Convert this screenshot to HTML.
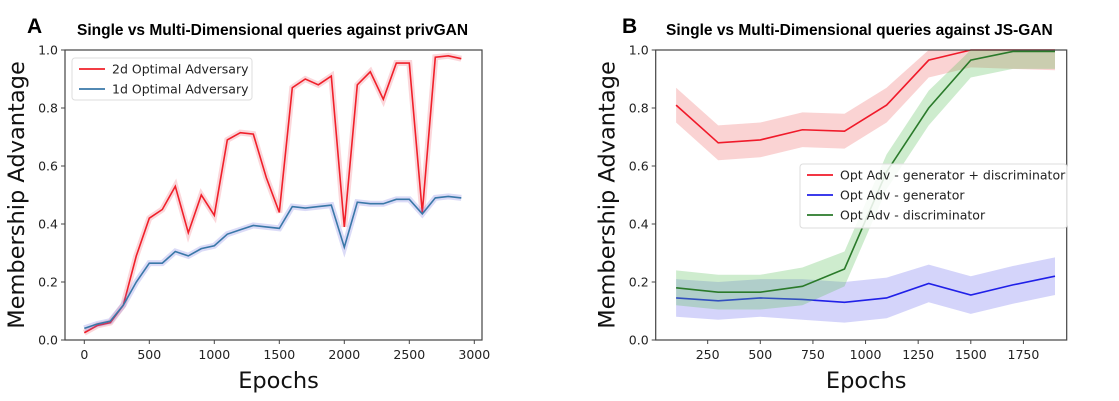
<!DOCTYPE html>
<html><head><meta charset="utf-8">
<style>
body{margin:0;background:#fff;width:1119px;height:401px;overflow:hidden}
svg{display:block;font-family:"Liberation Sans","DejaVu Sans",sans-serif}
.tick{font-size:12.5px;fill:#222;font-family:"DejaVu Sans",sans-serif}
.leg{font-size:12.5px;fill:#222;font-family:"DejaVu Sans",sans-serif}
</style></head>
<body>
<svg id="fig" width="1119" height="401"></svg>
<script>
// Panel A data
const aEpochs=[0,100,200,300,400,500,600,700,800,900,1000,1100,1200,1300,1400,1500,1600,1700,1800,1900,2000,2100,2200,2300,2400,2500,2600,2700,2800,2900];
const a2d=[0.025,0.05,0.06,0.12,0.29,0.42,0.45,0.53,0.37,0.50,0.43,0.69,0.715,0.71,0.56,0.44,0.87,0.90,0.88,0.91,0.39,0.88,0.925,0.83,0.955,0.955,0.44,0.975,0.98,0.97];
const a1d=[0.04,0.055,0.065,0.12,0.2,0.265,0.265,0.305,0.29,0.315,0.325,0.365,0.38,0.395,0.39,0.385,0.46,0.455,0.46,0.465,0.32,0.475,0.47,0.47,0.485,0.485,0.435,0.49,0.495,0.49];
const aXTicks=[0,500,1000,1500,2000,2500,3000];
const yTicks=[0.0,0.2,0.4,0.6,0.8,1.0];
// Panel B data
const bEpochs=[100,300,500,700,900,1100,1300,1500,1700,1900];
const bBoth=[0.81,0.68,0.69,0.725,0.72,0.81,0.965,1.0,1.0,1.0];
const bGen=[0.145,0.135,0.145,0.14,0.13,0.145,0.195,0.155,0.19,0.22];
const bDisc=[0.18,0.165,0.165,0.185,0.245,0.58,0.80,0.965,0.995,0.995];
const bBothErr=[0.06,0.06,0.06,0.06,0.06,0.06,0.06,0.06,0.065,0.07];
const bGenErr=[0.065,0.065,0.065,0.07,0.07,0.07,0.065,0.065,0.065,0.065];
const bDiscErr=[0.06,0.06,0.06,0.065,0.06,0.06,0.06,0.06,0.06,0.06];
const bXTicks=[250,500,750,1000,1250,1500,1750];

const NS="http://www.w3.org/2000/svg";
const svg=document.getElementById('fig');
function mk(tag,attrs,parent){const e=document.createElementNS(NS,tag);for(const k in attrs)e.setAttribute(k,attrs[k]);(parent||svg).appendChild(e);return e;}

function panel(p){
  const g=mk('g',{});
  
  
  const X=v=>p.x0+(v-p.xmin)/(p.xmax-p.xmin)*(p.x1-p.x0);
  const Y=v=>p.y0-(v)*(p.y0-p.y1);
  // series
  p.series.forEach(s=>{
    if(s.err){
      let d='';
      s.vals.forEach((v,i)=>{d+=(i?'L':'M')+X(p.xs[i])+','+Y(Math.min(1.0,v+s.err[i]));});
      for(let i=s.vals.length-1;i>=0;i--)d+='L'+X(p.xs[i])+','+Y(Math.max(0,s.vals[i]-s.err[i]));
      const b=mk('path',{d:d+'Z',fill:s.band,'fill-opacity':s.bo},g);
      
      
    }
    const pts=s.vals.map((v,i)=>X(p.xs[i])+','+Y(v)).join(' ');
    if(s.glow){const gl=mk('polyline',{points:pts,fill:'none',stroke:s.glow,'stroke-width':6,'stroke-opacity':0.25},g);
      
      }
    const l=mk('polyline',{points:pts,fill:'none',stroke:s.color,'stroke-width':1.6},g);
    
    
  });
  // axes box
  const r=mk('rect',{x:p.bx0,y:p.y1,width:p.bx1-p.bx0,height:p.y0-p.y1,fill:'none',stroke:'#444','stroke-width':1.2},g);
  
  
  yTicks.forEach(t=>{
    mk('line',{x1:p.bx0-4,x2:p.bx0,y1:Y(t),y2:Y(t),stroke:'#444'},g);
    const tx=mk('text',{x:p.bx0-7,y:Y(t)+4.5,'text-anchor':'end',class:'tick'},g);
    tx.textContent=t.toFixed(1);
    
    
  });
  p.xt.forEach(t=>{
    mk('line',{x1:X(t),x2:X(t),y1:p.y0,y2:p.y0+4,stroke:'#444'},g);
    const tx=mk('text',{x:X(t),y:p.y0+19,'text-anchor':'middle',class:'tick'},g);
    tx.textContent=t;
    
    
  });
  const yl=mk('text',{x:0,y:0,transform:`translate(${p.bx0-41},${(p.y0+p.y1)/2}) rotate(-90)`,'text-anchor':'middle','font-size':22.5,fill:'#111','font-family':'DejaVu Sans, sans-serif'},g);
  yl.textContent='Membership Advantage';
  
  
  const xl=mk('text',{x:(p.bx0+p.bx1)/2+5,y:388,'text-anchor':'middle','font-size':22.5,fill:'#111','font-family':'DejaVu Sans, sans-serif'},g);
  xl.textContent='Epochs';
  
  
  const ti=mk('text',{x:p.tx,y:35,'font-size':15.5,'font-weight':'bold',fill:'#000'},g);
  ti.textContent=p.title;
  
  
  const lt=mk('text',{x:p.lx,y:33,'font-size':21,'font-weight':'bold',fill:'#000'},g);
  lt.textContent=p.letter;
  
  
  // legend
  const lg=mk('g',{},g);
  
  
  mk('rect',{x:p.leg.x,y:p.leg.y,width:p.leg.w,height:p.leg.h,rx:3,fill:'#fff','fill-opacity':0.85,stroke:'#ddd'},lg);
  p.series.forEach((s,i)=>{
    const yy=p.leg.y+p.leg.first+i*p.leg.step;
    mk('line',{x1:p.leg.x+7,x2:p.leg.x+33,y1:yy,y2:yy,stroke:s.color,'stroke-width':1.8},lg);
    const t=mk('text',{x:p.leg.x+40,y:yy+4.5,class:'leg'},lg);
    t.textContent=s.label;
    
    
  });
}

panel({name:'panel-a',xs:aEpochs,xmin:0,xmax:3000,x0:84.3,x1:474.3,bx0:65,bx1:482,y0:340,y1:50,xt:aXTicks,
  title:'Single vs Multi-Dimensional queries against privGAN',tx:77,letter:'A',lx:27,
  leg:{x:72,y:58,w:180,h:42,first:11,step:20},
  series:[
    {id:'red-2d',vals:a2d,color:'#f0202a',glow:'#f06070',label:'2d Optimal Adversary'},
    {id:'blue-1d',vals:a1d,color:'#3a78a8',glow:'#7070e0',label:'1d Optimal Adversary'}
  ]});
panel({name:'panel-b',xs:bEpochs,xmin:100,xmax:1900,x0:676.1,x1:1055,bx0:655.7,bx1:1066.7,y0:340,y1:50,xt:bXTicks,
  title:'Single vs Multi-Dimensional queries against JS-GAN',tx:666,letter:'B',lx:622,
  leg:{x:800,y:164,w:267,h:64,first:11,step:20},
  series:[
    {id:'red-both',vals:bBoth,err:bBothErr,color:'#f01a2a',band:'#f08080',bo:0.35,label:'Opt Adv - generator + discriminator'},
    {id:'blue-gen',vals:bGen,err:bGenErr,color:'#2020e8',band:'#7070f0',bo:0.3,label:'Opt Adv - generator'},
    {id:'green-disc',vals:bDisc,err:bDiscErr,color:'#2a7a2a',band:'#5cc05c',bo:0.3,label:'Opt Adv - discriminator'}
  ]});
</script>
</body></html>
